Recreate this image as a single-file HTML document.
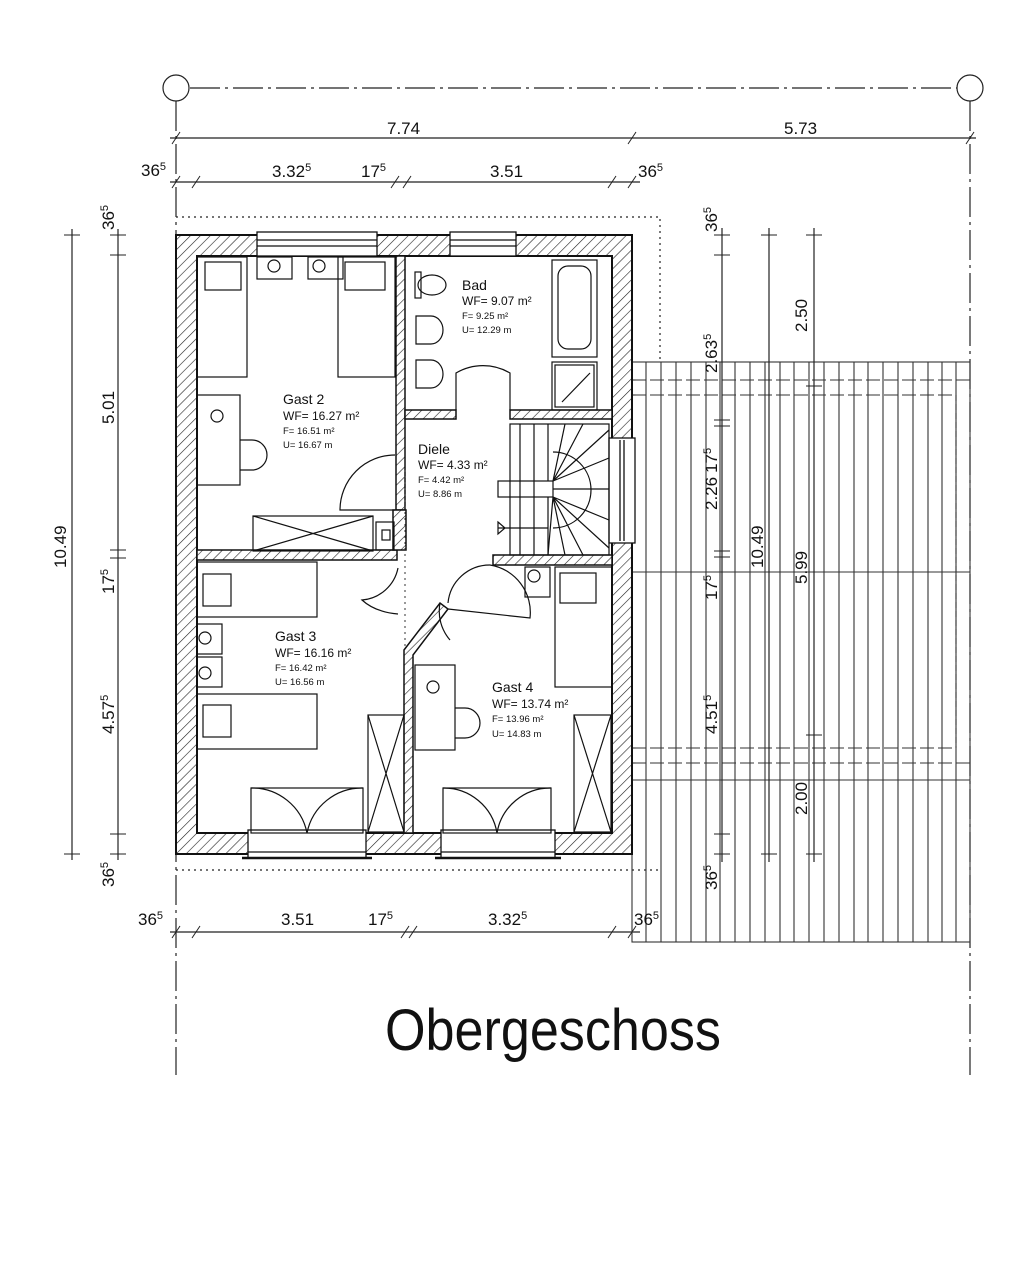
<!DOCTYPE html>
<html><head><meta charset="utf-8"><style>
html,body{margin:0;padding:0;background:#fff;}
svg{display:block;}
text{font-family:"Liberation Sans",sans-serif;fill:#111;}
</style></head><body>
<svg width="1035" height="1281" viewBox="0 0 1035 1281" xmlns="http://www.w3.org/2000/svg">
<defs>
<pattern id="h" patternUnits="userSpaceOnUse" width="7" height="7" patternTransform="rotate(45)">
<rect width="7" height="7" fill="#fff"/><line x1="0" y1="0" x2="0" y2="7" stroke="#222" stroke-width="1.2"/>
</pattern>
</defs>
<g stroke="#222" fill="none" stroke-width="1.2">
<!-- axis line -->
<circle cx="176" cy="88" r="13"/><circle cx="970" cy="88" r="13"/>
<line x1="190" y1="88" x2="957" y2="88" stroke-dasharray="30,5,3,5"/>
<line x1="176" y1="101" x2="176" y2="1075" stroke-dasharray="30,5,3,5"/>
<line x1="970" y1="101" x2="970" y2="1075" stroke-dasharray="30,5,3,5"/>
<!-- top dims -->
<line x1="170" y1="138" x2="976" y2="138"/>
<g stroke-width="1">
<line x1="172" y1="144" x2="180" y2="132"/><line x1="628" y1="144" x2="636" y2="132"/><line x1="966" y1="144" x2="974" y2="132"/>
</g>
<line x1="170" y1="182" x2="640" y2="182"/>
<g stroke-width="1">
<line x1="172" y1="188" x2="180" y2="176"/><line x1="192" y1="188" x2="200" y2="176"/><line x1="391" y1="188" x2="399" y2="176"/><line x1="403" y1="188" x2="411" y2="176"/><line x1="608" y1="188" x2="616" y2="176"/><line x1="628" y1="188" x2="636" y2="176"/>
</g>
<!-- bottom dims -->
<line x1="170" y1="932" x2="640" y2="932"/>
<g stroke-width="1">
<line x1="172" y1="938" x2="180" y2="926"/><line x1="192" y1="938" x2="200" y2="926"/><line x1="401" y1="938" x2="409" y2="926"/><line x1="409" y1="938" x2="417" y2="926"/><line x1="608" y1="938" x2="616" y2="926"/><line x1="628" y1="938" x2="636" y2="926"/>
</g>
<!-- left dims -->
<line x1="72" y1="229" x2="72" y2="860"/>
<line x1="118" y1="229" x2="118" y2="860"/>
<g stroke-width="1">
<line x1="64" y1="235" x2="80" y2="235"/><line x1="64" y1="854" x2="80" y2="854"/>
<line x1="110" y1="235" x2="126" y2="235"/><line x1="110" y1="255" x2="126" y2="255"/><line x1="110" y1="550" x2="126" y2="550"/><line x1="110" y1="558" x2="126" y2="558"/><line x1="110" y1="834" x2="126" y2="834"/><line x1="110" y1="854" x2="126" y2="854"/>
</g>
<!-- dotted outline -->
<path d="M176 217 H660 V362 M176 870 H660" stroke-dasharray="2,4"/>
</g>
<!-- terrace -->
<g stroke="#333" stroke-width="1.1" fill="none">
<rect x="632" y="362" width="338" height="580"/>
<g id="vl">
<line x1="646" y1="362" x2="646" y2="942"/><line x1="661" y1="362" x2="661" y2="942"/><line x1="676" y1="362" x2="676" y2="942"/><line x1="691" y1="362" x2="691" y2="942"/><line x1="706" y1="362" x2="706" y2="942"/><line x1="720" y1="362" x2="720" y2="942"/><line x1="735" y1="362" x2="735" y2="942"/><line x1="750" y1="362" x2="750" y2="942"/><line x1="765" y1="362" x2="765" y2="942"/><line x1="780" y1="362" x2="780" y2="942"/><line x1="794" y1="362" x2="794" y2="942"/><line x1="809" y1="362" x2="809" y2="942"/><line x1="824" y1="362" x2="824" y2="942"/><line x1="839" y1="362" x2="839" y2="942"/><line x1="854" y1="362" x2="854" y2="942"/><line x1="868" y1="362" x2="868" y2="942"/><line x1="883" y1="362" x2="883" y2="942"/><line x1="898" y1="362" x2="898" y2="942"/><line x1="913" y1="362" x2="913" y2="942"/><line x1="928" y1="362" x2="928" y2="942"/><line x1="942" y1="362" x2="942" y2="942"/><line x1="956" y1="362" x2="956" y2="942"/>
</g>
<line x1="632" y1="380" x2="970" y2="380" stroke-dasharray="14,4"/>
<line x1="632" y1="395" x2="956" y2="395" stroke-dasharray="14,4"/>
<line x1="956" y1="395" x2="956" y2="748" stroke-dasharray="6,3"/>
<line x1="632" y1="572" x2="970" y2="572"/>
<line x1="632" y1="748" x2="956" y2="748" stroke-dasharray="14,4"/>
<line x1="632" y1="763" x2="970" y2="763" stroke-dasharray="14,4"/>
<line x1="632" y1="780" x2="970" y2="780"/>
</g>
<!-- right dims -->
<g stroke="#222" stroke-width="1.2">
<line x1="722" y1="228" x2="722" y2="862"/><line x1="769" y1="228" x2="769" y2="862"/><line x1="814" y1="228" x2="814" y2="862"/>
<g stroke-width="1">
<line x1="714" y1="235" x2="730" y2="235"/><line x1="714" y1="255" x2="730" y2="255"/><line x1="714" y1="420" x2="730" y2="420"/><line x1="714" y1="426" x2="730" y2="426"/><line x1="714" y1="551" x2="730" y2="551"/><line x1="714" y1="557" x2="730" y2="557"/><line x1="714" y1="834" x2="730" y2="834"/><line x1="714" y1="854" x2="730" y2="854"/>
<line x1="761" y1="235" x2="777" y2="235"/><line x1="761" y1="854" x2="777" y2="854"/>
<line x1="806" y1="235" x2="822" y2="235"/><line x1="806" y1="386" x2="822" y2="386"/><line x1="806" y1="735" x2="822" y2="735"/><line x1="806" y1="854" x2="822" y2="854"/>
</g>
</g>
<!-- walls -->
<path fill-rule="evenodd" fill="url(#h)" stroke="#111" stroke-width="2" d="M176 235 H632 V854 H176 Z M197 256 V833 H612 V256 Z"/>
<!-- windows top -->
<g fill="#fff" stroke="#111" stroke-width="1.3">
<rect x="257" y="232" width="120" height="24"/><line x1="257" y1="240" x2="377" y2="240"/><line x1="257" y1="246" x2="377" y2="246"/>
<rect x="450" y="232" width="66" height="24"/><line x1="450" y1="240" x2="516" y2="240"/><line x1="450" y1="246" x2="516" y2="246"/>
<rect x="609" y="438" width="26" height="105"/><line x1="620" y1="440" x2="620" y2="541"/><line x1="624" y1="440" x2="624" y2="541"/>
<rect x="248" y="830" width="118" height="28"/><line x1="248" y1="852" x2="366" y2="852"/><line x1="242" y1="858" x2="372" y2="858" stroke-width="2.5"/>
<rect x="441" y="830" width="114" height="28"/><line x1="441" y1="852" x2="555" y2="852"/><line x1="435" y1="858" x2="561" y2="858" stroke-width="2.5"/>
</g>
<!-- interior walls -->
<g fill="url(#h)" stroke="#111" stroke-width="1.5">
<rect x="396" y="256" width="9" height="254"/>
<rect x="405" y="410" width="51" height="9"/><rect x="510" y="410" width="102" height="9"/>
<rect x="197" y="550" width="200" height="10"/><rect x="493" y="555" width="119" height="10"/>
<rect x="393" y="510" width="13" height="40"/>
<path d="M404 650 L440 603 L448 609 L413 655 V833 H404 Z"/>
</g>
<line x1="405" y1="470" x2="405" y2="650" stroke="#333" stroke-dasharray="2,4"/>
<!-- furniture -->
<g fill="none" stroke="#111" stroke-width="1.2">
<!-- Gast 2 beds -->
<rect x="197" y="257" width="50" height="120"/><rect x="205" y="262" width="36" height="28"/>
<rect x="338" y="257" width="57" height="120"/><rect x="345" y="262" width="40" height="28"/>
<rect x="257" y="257" width="35" height="22"/><rect x="308" y="257" width="35" height="22"/>
<circle cx="274" cy="266" r="6"/><circle cx="319" cy="266" r="6"/>
<rect x="197" y="395" width="43" height="90"/><circle cx="217" cy="416" r="6"/>
<path d="M240 440 h12 a14 14 0 0 1 0 30 h-12"/>
<rect x="253" y="516" width="120" height="35"/><path d="M253 516 L373 551 M253 551 L373 516"/>
<rect x="376" y="522" width="18" height="28"/><rect x="382" y="530" width="8" height="10"/>
<path d="M395 455 A55 55 0 0 0 340 510 H395"/>
<!-- Bad -->
<ellipse cx="432" cy="285" rx="14" ry="10"/><rect x="415" y="272" width="6" height="26"/>
<path d="M416 316 h15 a12 14 0 0 1 0 28 h-15 Z M416 360 h15 a12 14 0 0 1 0 28 h-15 Z"/>
<rect x="552" y="260" width="45" height="97"/><rect x="558" y="266" width="33" height="83" rx="10"/>
<rect x="552" y="362" width="45" height="48"/><rect x="555" y="365" width="39" height="42"/><path d="M562 402 L590 373"/>
<path d="M456 410 V373 A53 53 0 0 1 510 373 V410" />
<!-- stairs -->
<rect x="510" y="424" width="99" height="131"/>
<rect x="498" y="481" width="55" height="16"/>
<path d="M520 424V555 M534 424V555 M548 424V481 M548 497V555 M553 452 A38 38 0 0 1 553 528"/>
<path d="M553 481 L565 424 M553 481 L583 424 M553 481 L609 430 M553 481 L609 458 M553 489 L609 489 M553 497 L609 520 M553 497 L609 548 M553 497 L583 555 M553 497 L565 555 M553 497 L548 555"/>
<path d="M498 528 H548 M498 522 L505 528 L498 534 Z"/>
<!-- Gast 3 -->
<rect x="197" y="562" width="120" height="55"/><rect x="203" y="574" width="28" height="32"/>
<rect x="197" y="624" width="25" height="30"/><circle cx="205" cy="638" r="6"/>
<rect x="197" y="657" width="25" height="30"/><circle cx="205" cy="673" r="6"/>
<rect x="197" y="694" width="120" height="55"/><rect x="203" y="705" width="28" height="32"/>
<rect x="368" y="715" width="36" height="117"/><path d="M368 715 L404 832 M404 715 L368 832"/>
<rect x="251" y="788" width="112" height="45"/>
<path d="M251 788 A56 56 0 0 1 307 833 M363 788 A56 56 0 0 0 307 833"/>
<path d="M398 568 A40 40 0 0 1 362 600 Q375 612 398 614"/>
<path d="M440 603 A44 44 0 0 0 450 640 M448 603 A42 42 0 0 1 490 565 M490 565 A48 48 0 0 1 530 618 L448 609"/>
<!-- Gast 4 -->
<rect x="525" y="567" width="25" height="30"/><circle cx="534" cy="576" r="6"/>
<rect x="555" y="567" width="57" height="120"/><rect x="560" y="573" width="36" height="30"/>
<rect x="415" y="665" width="40" height="85"/><circle cx="433" cy="687" r="6"/>
<path d="M455 708 h10 a14 14 0 0 1 0 30 h-10"/>
<rect x="574" y="715" width="37" height="117"/><path d="M574 715 L611 832 M611 715 L574 832"/>
<rect x="443" y="788" width="108" height="45"/>
<path d="M443 788 A54 54 0 0 1 497 833 M551 788 A54 54 0 0 0 497 833"/>
</g>
<!-- room labels -->
<g font-size="13">
<text x="462" y="290" font-size="14">Bad</text><text x="462" y="305" font-size="12">WF= 9.07 m²</text><text x="462" y="319" font-size="9.5">F= 9.25 m²</text><text x="462" y="333" font-size="9.5">U= 12.29 m</text>
<text x="283" y="404" font-size="14">Gast 2</text><text x="283" y="420" font-size="12">WF= 16.27 m²</text><text x="283" y="434" font-size="9.5">F= 16.51 m²</text><text x="283" y="448" font-size="9.5">U= 16.67 m</text>
<text x="418" y="454" font-size="14">Diele</text><text x="418" y="469" font-size="12">WF= 4.33 m²</text><text x="418" y="483" font-size="9.5">F= 4.42 m²</text><text x="418" y="497" font-size="9.5">U= 8.86 m</text>
<text x="275" y="641" font-size="14">Gast 3</text><text x="275" y="657" font-size="12">WF= 16.16 m²</text><text x="275" y="671" font-size="9.5">F= 16.42 m²</text><text x="275" y="685" font-size="9.5">U= 16.56 m</text>
<text x="492" y="692" font-size="14">Gast 4</text><text x="492" y="708" font-size="12">WF= 13.74 m²</text><text x="492" y="722" font-size="9.5">F= 13.96 m²</text><text x="492" y="737" font-size="9.5">U= 14.83 m</text>
</g>
<!-- dim labels -->
<g font-size="17">
<text x="387" y="134">7.74</text><text x="784" y="134">5.73</text>
<text x="141" y="176">36<tspan font-size="11" dy="-6">5</tspan></text>
<text x="272" y="177">3.32<tspan font-size="11" dy="-6">5</tspan></text>
<text x="361" y="177">17<tspan font-size="11" dy="-6">5</tspan></text>
<text x="490" y="177">3.51</text>
<text x="638" y="177">36<tspan font-size="11" dy="-6">5</tspan></text>
<text x="138" y="925">36<tspan font-size="11" dy="-6">5</tspan></text>
<text x="281" y="925">3.51</text>
<text x="368" y="925">17<tspan font-size="11" dy="-6">5</tspan></text>
<text x="488" y="925">3.32<tspan font-size="11" dy="-6">5</tspan></text>
<text x="634" y="925">36<tspan font-size="11" dy="-6">5</tspan></text>
<text transform="translate(66,568) rotate(-90)">10.49</text>
<text transform="translate(114,230) rotate(-90)">36<tspan font-size="11" dy="-6">5</tspan></text>
<text transform="translate(114,424) rotate(-90)">5.01</text>
<text transform="translate(114,594) rotate(-90)">17<tspan font-size="11" dy="-6">5</tspan></text>
<text transform="translate(114,734) rotate(-90)">4.57<tspan font-size="11" dy="-6">5</tspan></text>
<text transform="translate(114,887) rotate(-90)">36<tspan font-size="11" dy="-6">5</tspan></text>
<text transform="translate(717,232) rotate(-90)">36<tspan font-size="11" dy="-6">5</tspan></text>
<text transform="translate(717,373) rotate(-90)">2.63<tspan font-size="11" dy="-6">5</tspan></text>
<text transform="translate(717,510) rotate(-90)">2.26<tspan dx="4">17</tspan><tspan font-size="11" dy="-6">5</tspan></text>
<text transform="translate(717,600) rotate(-90)">17<tspan font-size="11" dy="-6">5</tspan></text>
<text transform="translate(717,734) rotate(-90)">4.51<tspan font-size="11" dy="-6">5</tspan></text>
<text transform="translate(717,890) rotate(-90)">36<tspan font-size="11" dy="-6">5</tspan></text>
<text transform="translate(763,568) rotate(-90)">10.49</text>
<text transform="translate(807,332) rotate(-90)">2.50</text>
<text transform="translate(807,584) rotate(-90)">5.99</text>
<text transform="translate(807,815) rotate(-90)">2.00</text>
</g>
<text x="385" y="1050" font-size="58" textLength="336" lengthAdjust="spacingAndGlyphs">Obergeschoss</text>
</svg>
</body></html>
